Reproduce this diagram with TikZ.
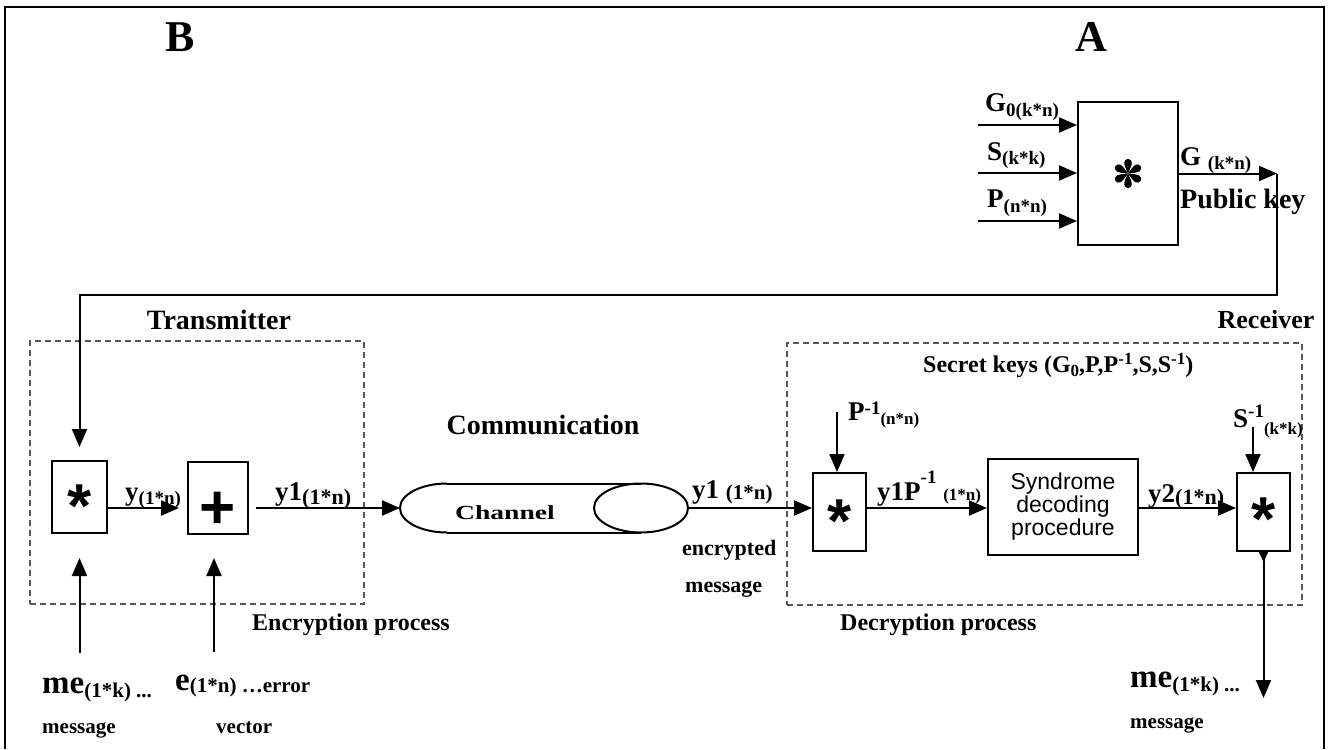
\documentclass[tikz,border=0pt]{standalone}
\usepackage{fontspec}
\usepackage{graphicx}
\setmainfont{Liberation Serif}
\newfontfamily\arialfont{Liberation Sans}
\usetikzlibrary{arrows.meta}
\definecolor{dashgray}{RGB}{92,86,80}
\newcommand{\fs}[1]{\fontsize{#1}{#1}\selectfont}
% index text: size, shift (pt), text
\newcommand{\lowtxt}[3]{\raisebox{-#2pt}{\fs{#1}#3}}
\newcommand{\hightxt}[3]{\raisebox{#2pt}{\fs{#1}#3}}
\begin{document}
\begin{tikzpicture}[x=1pt, y=-1pt,
  lbl/.style={inner sep=0, anchor=base west, font=\bfseries\fs{27}},
  ttl/.style={inner sep=0, font=\bfseries\fs{28}},
  opbox/.style={draw, line width=2pt, inner sep=0, minimum width=55pt, minimum height=72pt},
  ast/.style={inner sep=0, anchor=base, font=\arialfont\bfseries\fs{62}},
  wire/.style={line width=2pt},
  arr/.style={line width=2pt, -{Triangle[length=18pt,width=15pt]}},
  dbox/.style={draw=dashgray, line width=2pt, dash pattern=on 6pt off 4pt, inner sep=0},
]
\useasboundingbox (0,0) rectangle (1332,749);
\draw[line width=2.5pt] (5,749) -- (5,7) -- (1324,7) -- (1324,749);

\node[ttl, font=\bfseries\fs{44}] (B) at (180,37) {B};
\node[ttl, font=\bfseries\fs{44}] (A) at (1091,37) {A};

% key generation
\node[draw, line width=2pt, minimum width=100pt, minimum height=143pt] (gen) at (1128,173.5) {};
\foreach \a in {90,30,-30,-90,-150,150}
  \fill[shift={(gen.center)}, rotate=\a] (0,0) .. controls (4,1.7) and (8,3.9) .. (10.8,3.8)
    arc[start angle=90, end angle=-90, radius=3.8] .. controls (8,-3.9) and (4,-1.7) .. (0,0);
\coordinate (g0) at (978,125);
\coordinate (s0) at (978,173);
\coordinate (p0) at (978,221);
\draw[arr] (g0) -- (g0 -| gen.west);
\draw[arr] (s0) -- (s0 -| gen.west);
\draw[arr] (p0) -- (p0 -| gen.west);
\node[lbl] (g0lbl) at (985,112) {G\lowtxt{19}{5}{0(k*n)}};
\node[lbl] (s0lbl) at (987,160) {S\lowtxt{19}{5}{(k*k)}};
\node[lbl] (p0lbl) at (987,207) {P\lowtxt{19}{5}{(n*n)}};
\coordinate (pk) at (1277,173.5);
\draw[arr] (gen.east) -- (pk);
\node[lbl] (glbl) at (1180,165) {G \lowtxt{19}{4}{(k*n)}};
\node[lbl, font=\bfseries\fs{28}] (pklbl) at (1180,208) {Public key};

% transmitter
\node[ttl] (txlbl) at (219,320) {Transmitter};
\node[dbox, minimum width=334pt, minimum height=263pt] (tx) at (197,472.5) {};
\node[opbox] (m1) at (79.5,497) {};
\node[ast] (m1s) at ([yshift=-30pt]m1.center) {*};
\node[opbox, minimum width=60pt] (add) at (218,498) {};
\node[ast] (adds) at ([yshift=-30.5pt]add.center) {+};
\coordinate (row) at (0,508);
\coordinate (turn) at (1277,295);
\draw[arr, shorten >=13pt] (pk) -- (turn) -| (m1.north);
\draw[arr, shorten >=8pt] (m1.east |- row) -- (add.west |- row);
\node[lbl] (ylbl) at (125,500) {y\lowtxt{19}{4}{(1*n)}};
\coordinate (mein) at (79.5,653);
\draw[arr, shorten >=24pt] (mein) -- (m1.south);
\coordinate (ein) at (214,652);
\draw[arr, shorten >=23pt] (ein) -- (ein |- add.south);
\node[lbl, font=\bfseries\fs{33}] (metx) at (42,693) {me\lowtxt{21}{4}{(1*k) ...}};
\node[lbl, font=\bfseries\fs{21}] (msgtx) at (42,733) {message};
\node[lbl, font=\bfseries\fs{33}] (elbl) at (175,690) {e\lowtxt{21}{2}{(1*n) …error}};
\node[lbl, font=\bfseries\fs{21}] (vec) at (216,733) {vector};
\node[lbl, font=\bfseries\fs{24}] (encp) at (252,630) {Encryption process};

% channel
\coordinate (chL) at (400,508);
\coordinate (chR) at (688,508);
\draw[arr, shorten <=7pt] (add.east |- row) -- (chL);
\node[lbl] (y1lbl) at (275,500) {y1\lowtxt{22}{4}{(1*n)}};
\draw[wire] (447,483.5) -- (641,483.5) (447,532.5) -- (641,532.5);
\draw[wire] (447,483.5) arc[start angle=-90, end angle=-270, x radius=47, y radius=24.5];
\draw[wire] (641,508) ellipse[x radius=47, y radius=24.5];
\node[inner sep=0] (chtxt) at (505,513) {\scalebox{1.38}[1]{\bfseries\fs{20}Channel}};
\node[ttl] (comm) at (543,425) {Communication};

% receiver
\node[ttl, font=\bfseries\fs{26}] (rxlbl) at (1266,320) {Receiver};
\node[dbox, minimum width=515pt, minimum height=262pt] (rx) at (1044.5,474) {};
\node[lbl, font=\bfseries\fs{24}] (keys) at (923,372) {Secret keys (G\lowtxt{17}{4}{0},P,P\hightxt{17}{8}{-1},S,S\hightxt{17}{8}{-1})};
\node[opbox, minimum width=53pt, minimum height=78pt] (m2) at (839.5,512) {};
\node[ast] (m2s) at ([yshift=-30pt]m2.center) {*};
\node[draw, line width=2pt, minimum width=150pt, minimum height=96pt, align=center, font=\arialfont\fs{23}] (syn) at (1063,507) {Syndrome\\decoding\\procedure};
\node[opbox, minimum width=53pt, minimum height=78pt] (m3) at (1263.5,512) {};
\node[ast] (m3s) at ([yshift=-28pt]m3.center) {*};
\draw[arr] (chR) -- (m2.west |- row);
\node[lbl] (y1rlbl) at (692,498) {y1 \lowtxt{21}{1}{(1*n)}};
\node[lbl, font=\bfseries\fs{22}] (enc1) at (682,555) {encrypted};
\node[lbl, font=\bfseries\fs{22}] (enc2) at (685,592) {message};
\coordinate (pin) at (837,412);
\draw[arr] (pin) -- (pin |- m2.north);
\node[lbl] (plbl) at (848,420) {P\hightxt{19}{6}{-1}\lowtxt{17}{4}{(n*n)}};
\draw[arr] (m2.east |- row) -- (syn.west |- row);
\node[lbl] (y1plbl) at (877,500) {y1P\hightxt{19}{17}{-1} \lowtxt{17}{0}{(1*n)}};
\draw[arr] (syn.east |- row) -- (m3.west |- row);
\node[lbl] (y2lbl) at (1148,502) {y2\lowtxt{22}{2}{(1*n)}};
\coordinate (sin) at (1253,427);
\draw[arr] (sin) -- (sin |- m3.north);
\node[lbl] (slbl) at (1233,427) {S\hightxt{19}{10}{-1}\lowtxt{17}{7}{(k*k)}};
\coordinate (mout) at (1263.5,698);
\draw[line width=2pt, {Triangle[reversed,length=10pt,width=9pt]}-{Triangle[length=18pt,width=15pt]}] (m3.south) -- (mout);
\node[lbl, font=\bfseries\fs{33}] (merx) at (1130,687) {me\lowtxt{21}{4}{(1*k) ...}};
\node[lbl, font=\bfseries\fs{21}] (msgrx) at (1130,728) {message};
\node[lbl, font=\bfseries\fs{24}] (dec) at (840,630) {Decryption process};
\end{tikzpicture}
\end{document}
